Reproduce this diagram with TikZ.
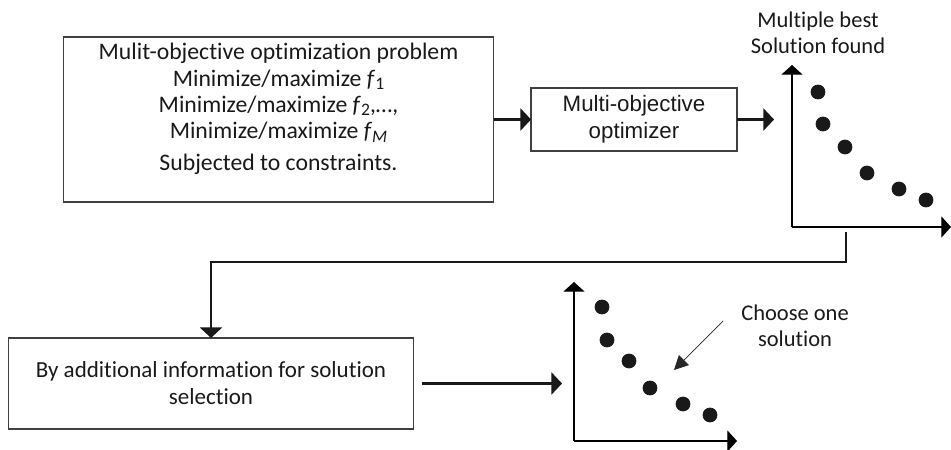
\documentclass[tikz,border=0pt]{standalone}
\usepackage{fontspec}
\setmainfont{Carlito}[Ligatures=NoCommon]
\newfontfamily\arialfont{Liberation Sans}
\usetikzlibrary{arrows.meta}

\newcommand{\fsub}[1]{\textit{f}\raisebox{-0.3ex}{\fontsize{10}{10}\selectfont #1}}

\begin{document}
\begin{tikzpicture}[x=0.02cm,y=-0.02cm,
txt/.style={align=center,inner sep=0pt,text=black!90,font=\fontsize{12.8}{14.6}\selectfont},
box/.style={draw=black!75,line width=0.6pt,inner sep=0pt,outer sep=0pt},
flow/.style={line width=1.2pt,black!90,-{Triangle[length=6pt,width=12.5pt]}},
axis/.style={line width=0.7pt,-{Triangle[length=5.5pt,width=12pt]}},
pointer/.style={line width=0.4pt,black!85,-{Triangle[length=8pt,width=8pt]}},
pts/.style={only marks,mark=*,mark size=4pt,black!90}]
\useasboundingbox (0,0) rectangle (951,450);
\node[box,minimum width=8.62cm,minimum height=3.3cm] (problem) at (278.5,119.5) {};
\node[txt,font=\fontsize{13.5}{15}\selectfont] (problemtext) at (278.5,109) {Mulit-objective optimization problem\\
Minimize/maximize \fsub{1}\\
Minimize/maximize \fsub{2},…,\\
Minimize/maximize \fsub{\textit{M}}\\[3pt]
Subjected to constraints.};
\node[box,txt,minimum width=4.12cm,minimum height=1.26cm,font=\arialfont\fontsize{12.7}{15.3}\selectfont] (optimizer) at (634,119.5) {Multi-objective\\optimizer};
\node[box,txt,minimum width=8.12cm,minimum height=1.82cm,font=\fontsize{13.1}{15.3}\selectfont] (select) at (211,383.5) {By additional information for solution\\selection};
\node[txt] (best) at (818,33) {Multiple best\\Solution found};
\node[txt] (choose) at (795,326) {Choose one\\solution};

\coordinate (o1) at (792,227);
\coordinate (in1) at (774,119.5);
\coordinate (out1) at (846,232);
\coordinate (bend) at (846,262);
\coordinate (o2) at (574,441);
\coordinate (in2) at (562,383.5);
\coordinate (tail) at (723,321);
\coordinate (pick) at (674,370);

\draw[flow] (problem.east) -- (optimizer.west);
\draw[flow] (optimizer.east) -- (in1);
\draw[axis] (o1) -- (792,65);
\draw[axis] (o1) -- (951,227);
\draw[pts] plot coordinates {(818,92) (823,124) (845,147) (867,173) (899,189) (926,200)};
\draw[flow] (out1) -- (bend) -| (select.north);
\draw[flow,shorten <=4.5pt] (select.east) -- (in2);
\draw[axis] (o2) -- (574,282);
\draw[axis] (o2) -- (737,441);
\draw[pts] plot coordinates {(602,307) (607,340) (629,361) (650,388) (683,404) (710,415)};
\draw[pointer] (tail) -- (pick);
\end{tikzpicture}
\end{document}
